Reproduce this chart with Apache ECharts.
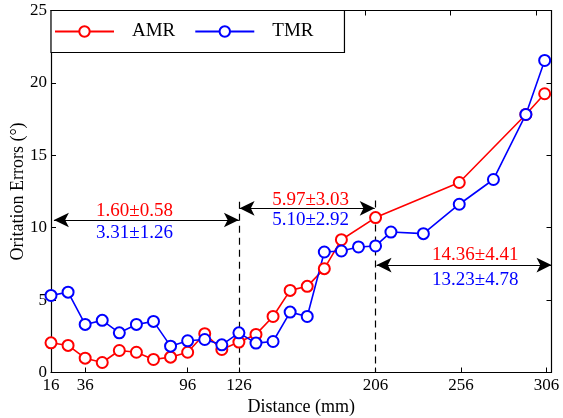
<!DOCTYPE html>
<html><head><meta charset="utf-8">
<script src="https://cdn.jsdelivr.net/npm/echarts@6/dist/echarts.min.js"></script>
<style>html,body{margin:0;padding:0;background:#fff}#c{width:563px;height:418px}</style>
</head><body><div id="c"></div>
<script>
// ---- data ----
const amrX = [16,26,36,46,56,66,76,86,96,106,116,126,136,146,156,166,176,186,206,255,294,305];
const amrY = [2.05,1.87,0.99,0.69,1.52,1.40,0.90,1.06,1.40,2.68,1.59,2.10,2.63,3.87,5.67,5.95,7.17,9.17,10.70,13.12,17.82,19.25];
const tmrX = [16,26,36,46,56,66,76,86,96,106,116,126,136,146,156,166,176,186,196,206,215,234,255,275,294,305];
const tmrY = [5.32,5.55,3.32,3.60,2.74,3.32,3.53,1.82,2.19,2.28,1.91,2.74,2.03,2.14,4.17,3.87,8.32,8.39,8.67,8.74,9.70,9.59,11.62,13.33,17.82,21.55];
const xTickLabels = [16,36,96,126,206,256,306];
const xTopTicks = [50,100,150,200,250,300];
// annotation segments (data coords): [x1, x2, y]
const arrows = [[17.7,126,10.53],[126.4,205.5,11.34],[206.6,309,7.42]];
const dividers = [[126,11.8],[206,11.87]];
// annotation texts: [x, y, text, series]
const notes = [
  [64.9,11.18,'1.60±0.58','AMR'],[64.9,9.61,'3.31±1.26','TMR'],
  [168,11.92,'5.97±3.03','AMR'],[168,10.53,'5.10±2.92','TMR'],
  [264.4,8.11,'14.36±4.41','AMR'],[264.4,6.38,'13.23±4.78','TMR']
];
const colors = {AMR:'#ff0000', TMR:'#0000ff'};
const FONT = "'Liberation Serif','Times New Roman',serif";

const pairs = (xs, ys) => xs.map((x,i)=>[x, ys[i]]);
const markLines = [];
arrows.forEach(a => markLines.push([
  {coord:[a[0],a[2]], symbol:'arrow', symbolSize:[11,15]},
  {coord:[a[1],a[2]], symbol:'arrow', symbolSize:[11,15]}
]));
dividers.forEach(d => markLines.push([
  {coord:[d[0],d[1]], symbol:'none', lineStyle:{type:[7,5]}},
  {coord:[d[0],0], symbol:'none'}
]));

const chart = echarts.init(document.getElementById('c'), null, {renderer:'canvas'});
const axisCommon = {
  axisLine:{show:true, onZero:false, lineStyle:{color:'#000', width:1.2}},
  splitLine:{show:false}
};
chart.setOption({
  animation:false,
  grid:{left:51, right:11.5, top:10.5, bottom:45.5, containLabel:false, outerBoundsMode:'none'},
  legend:{
    data:['AMR','TMR'], left:51, top:10.5, orient:'horizontal',
    padding:[11,31,11,3], itemGap:19, itemWidth:59, itemHeight:13,
    borderColor:'#000', borderWidth:1.2, backgroundColor:'#fff',
    textStyle:{fontFamily:FONT, fontSize:19, color:'#000', lineHeight:20, padding:[0,0,0,13]}
  },
  xAxis:[
    Object.assign({}, axisCommon, {
      type:'value', min:16, max:309, position:'bottom',
      name:'Distance (mm)', nameLocation:'middle', nameGap:26, nameMoveOverlap:false,
      nameTextStyle:{fontFamily:FONT, fontSize:18, color:'#000'},
      axisTick:{show:true, inside:true, length:5, customValues:xTickLabels, lineStyle:{color:'#000'}},
      axisLabel:{show:true, customValues:xTickLabels, fontFamily:FONT, fontSize:17, color:'#000', margin:5}
    }),
    Object.assign({}, axisCommon, {
      type:'value', min:16, max:309, position:'top',
      axisTick:{show:true, inside:true, length:5, customValues:xTopTicks, lineStyle:{color:'#000'}},
      axisLabel:{show:false}
    })
  ],
  yAxis:[
    Object.assign({}, axisCommon, {
      type:'value', min:0, max:25, interval:5, position:'left',
      name:'Oritation Errors (°)', nameLocation:'middle', nameGap:24, nameMoveOverlap:false,
      nameTextStyle:{fontFamily:FONT, fontSize:18, color:'#000'},
      axisTick:{show:true, inside:true, length:5, lineStyle:{color:'#000'}},
      axisLabel:{fontFamily:FONT, fontSize:17, color:'#000', margin:4}
    }),
    Object.assign({}, axisCommon, {
      type:'value', min:0, max:25, interval:5, position:'right',
      axisTick:{show:true, inside:true, length:5, lineStyle:{color:'#000'}},
      axisLabel:{show:false}
    })
  ],
  series:[
    {
      name:'annotations', type:'line', data:[], silent:true,
      markLine:{
        silent:true, animation:false,
        lineStyle:{color:'#000', width:1.2, type:'solid'},
        itemStyle:{color:'#000'},
        label:{show:false}, emphasis:{disabled:true},
        data:markLines
      }
    },
    {
      name:'notes', type:'custom', silent:true, z:5,
      data: notes.map(n => [n[0], n[1]]),
      renderItem: (params, api) => {
        const n = notes[params.dataIndex];
        const p = api.coord([api.value(0), api.value(1)]);
        return {type:'text', x:p[0], y:p[1], style:{
          text:n[2], fill:colors[n[3]], font:'19px ' + FONT,
          align:'center', verticalAlign:'middle'
        }};
      }
    },
    {
      name:'AMR', type:'line', data:pairs(amrX, amrY), z:10,
      symbol:'emptyCircle', symbolSize:11, showAllSymbol:true,
      lineStyle:{color:colors.AMR, width:1.6},
      itemStyle:{color:colors.AMR, borderWidth:1.6}
    },
    {
      name:'TMR', type:'line', data:pairs(tmrX, tmrY), z:10,
      symbol:'emptyCircle', symbolSize:11, showAllSymbol:true,
      lineStyle:{color:colors.TMR, width:1.6},
      itemStyle:{color:colors.TMR, borderWidth:1.6}
    }
  ]
});
</script>
</body></html>
